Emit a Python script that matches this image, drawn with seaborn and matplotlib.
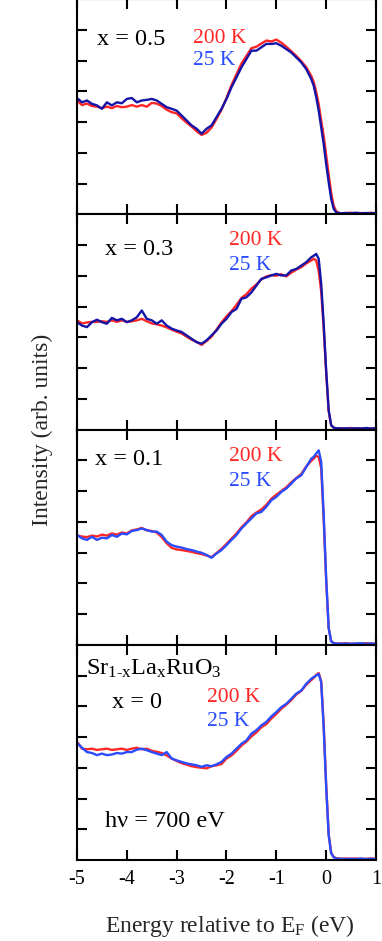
import matplotlib
matplotlib.use("Agg")
import matplotlib.pyplot as plt
import seaborn as sns

# ---------------- data ----------------
energy = [-5.0, -4.9, -4.8, -4.7, -4.6, -4.5, -4.4, -4.3, -4.2, -4.1,
          -4.0, -3.9, -3.8, -3.7, -3.6, -3.5, -3.4, -3.3, -3.2, -3.1,
          -3.0, -2.9, -2.8, -2.7, -2.6, -2.5, -2.4, -2.3, -2.2, -2.1,
          -2.0, -1.9, -1.8, -1.7, -1.6, -1.5, -1.4, -1.3, -1.2, -1.1,
          -1.0, -0.9, -0.8, -0.7, -0.6, -0.5, -0.4, -0.3, -0.25, -0.2,
          -0.15, -0.1, -0.05, 0.0, 0.05, 0.1, 0.15, 0.2, 0.25, 0.3,
          0.4, 0.5, 0.6, 0.7, 0.8, 0.9, 1.0]

# x = 0.5
x05_25K = [3.78, 3.64, 3.70, 3.59, 3.54, 3.43, 3.64, 3.54, 3.64, 3.61,
           3.75, 3.78, 3.64, 3.70, 3.72, 3.75, 3.70, 3.59, 3.48, 3.43,
           3.37, 3.21, 3.05, 2.89, 2.78, 2.62, 2.78, 2.89, 3.16, 3.43,
           3.75, 4.13, 4.45, 4.78, 5.05, 5.32, 5.32, 5.43, 5.54, 5.54,
           5.56, 5.48, 5.37, 5.26, 5.10, 4.94, 4.72, 4.40, 4.18, 3.81,
           3.37, 2.83, 2.29, 1.64, 1.05, 0.51, 0.18, 0.06, 0.04, 0.03,
           0.04, 0.03, 0.05, 0.03, 0.04, 0.03, 0.04]
x05_200K = [3.70, 3.55, 3.60, 3.52, 3.50, 3.45, 3.50, 3.45, 3.52, 3.48,
            3.50, 3.55, 3.50, 3.55, 3.50, 3.62, 3.60, 3.52, 3.40, 3.32,
            3.28, 3.12, 2.98, 2.85, 2.70, 2.58, 2.65, 2.82, 3.10, 3.40,
            3.78, 4.20, 4.55, 4.90, 5.15, 5.40, 5.45, 5.55, 5.65, 5.62,
            5.68, 5.58, 5.45, 5.30, 5.15, 4.98, 4.78, 4.50, 4.30, 3.98,
            3.58, 3.05, 2.55, 1.92, 1.30, 0.70, 0.28, 0.10, 0.05, 0.03,
            0.04, 0.05, 0.03, 0.04, 0.03, 0.05, 0.03]

# x = 0.3
x03_25K = [3.49, 3.38, 3.33, 3.49, 3.57, 3.49, 3.44, 3.63, 3.55, 3.60,
           3.49, 3.55, 3.65, 3.87, 3.60, 3.55, 3.44, 3.55, 3.38, 3.28,
           3.22, 3.17, 3.06, 2.95, 2.84, 2.79, 2.90, 3.06, 3.22, 3.44,
           3.60, 3.82, 3.92, 4.25, 4.30, 4.46, 4.68, 4.90, 4.95, 5.01,
           5.06, 5.01, 5.01, 5.17, 5.22, 5.33, 5.44, 5.60, 5.65, 5.71,
           5.55, 4.74, 3.44, 1.92, 0.63, 0.14, 0.06, 0.04, 0.04, 0.03,
           0.04, 0.03, 0.04, 0.03, 0.05, 0.03, 0.04]
x03_200K = [3.55, 3.45, 3.48, 3.50, 3.50, 3.52, 3.50, 3.55, 3.50, 3.55,
            3.50, 3.52, 3.55, 3.60, 3.52, 3.45, 3.42, 3.38, 3.32, 3.25,
            3.18, 3.12, 3.02, 2.92, 2.85, 2.75, 2.88, 3.02, 3.25, 3.48,
            3.68, 3.85, 4.05, 4.28, 4.40, 4.58, 4.72, 4.88, 4.98, 5.02,
            5.00, 5.05, 4.98, 5.10, 5.20, 5.28, 5.40, 5.50, 5.55, 5.50,
            5.15, 4.50, 3.30, 1.85, 0.60, 0.14, 0.06, 0.04, 0.04, 0.04,
            0.03, 0.05, 0.03, 0.04, 0.04, 0.03, 0.05]

# x = 0.1
x01_25K = [3.57, 3.46, 3.41, 3.51, 3.41, 3.48, 3.46, 3.57, 3.51, 3.62,
           3.59, 3.70, 3.73, 3.78, 3.73, 3.68, 3.68, 3.57, 3.35, 3.24,
           3.19, 3.16, 3.11, 3.08, 3.03, 2.99, 2.92, 2.83, 2.97, 3.08,
           3.24, 3.41, 3.57, 3.78, 3.95, 4.11, 4.27, 4.32, 4.49, 4.70,
           4.81, 4.97, 5.08, 5.24, 5.41, 5.51, 5.78, 6.05, 6.11, 6.22,
           6.32, 5.95, 4.22, 2.16, 0.54, 0.11, 0.05, 0.04, 0.04, 0.03,
           0.04, 0.03, 0.04, 0.05, 0.03, 0.04, 0.03]
x01_200K = [3.55, 3.52, 3.50, 3.55, 3.52, 3.58, 3.55, 3.62, 3.58, 3.65,
            3.62, 3.72, 3.75, 3.80, 3.72, 3.70, 3.65, 3.50, 3.30, 3.15,
            3.10, 3.08, 3.05, 3.02, 2.98, 2.95, 2.90, 2.85, 2.98, 3.12,
            3.28, 3.45, 3.62, 3.82, 3.98, 4.18, 4.30, 4.40, 4.55, 4.75,
            4.88, 5.00, 5.12, 5.28, 5.42, 5.55, 5.80, 5.98, 6.05, 6.15,
            6.10, 5.75, 4.10, 2.10, 0.55, 0.12, 0.06, 0.04, 0.04, 0.04,
            0.05, 0.03, 0.04, 0.03, 0.05, 0.04, 0.03]

# x = 0
x00_25K = [3.81, 3.65, 3.51, 3.48, 3.41, 3.46, 3.41, 3.43, 3.48, 3.46,
           3.51, 3.51, 3.59, 3.62, 3.57, 3.51, 3.46, 3.41, 3.51, 3.30,
           3.24, 3.19, 3.14, 3.11, 3.08, 3.03, 3.08, 3.05, 3.11, 3.19,
           3.35, 3.46, 3.62, 3.78, 3.89, 4.11, 4.22, 4.38, 4.49, 4.67,
           4.81, 4.97, 5.08, 5.24, 5.41, 5.51, 5.73, 5.89, 5.95, 6.00,
           6.05, 5.78, 4.32, 2.38, 0.81, 0.22, 0.09, 0.05, 0.04, 0.04,
           0.03, 0.04, 0.03, 0.05, 0.03, 0.04, 0.03]
x00_200K = [3.85, 3.62, 3.60, 3.62, 3.58, 3.60, 3.62, 3.58, 3.60, 3.62,
            3.58, 3.62, 3.65, 3.60, 3.62, 3.55, 3.52, 3.48, 3.40, 3.30,
            3.22, 3.15, 3.10, 3.05, 3.02, 3.00, 2.98, 3.05, 3.08, 3.12,
            3.30, 3.40, 3.55, 3.72, 3.85, 4.02, 4.15, 4.32, 4.42, 4.60,
            4.75, 4.92, 5.05, 5.20, 5.38, 5.50, 5.70, 5.85, 5.92, 6.02,
            6.08, 5.82, 4.40, 2.45, 0.85, 0.24, 0.10, 0.06, 0.05, 0.04,
            0.05, 0.04, 0.05, 0.03, 0.04, 0.05, 0.04]

x_ticks = [-5, -4, -3, -2, -1, 0, 1]
x_tick_labels = ["-5", "-4", "-3", "-2", "-1", "0", "1"]
y_ticks = [1, 2, 3, 4, 5, 6]

panels = [
    ("x = 0.5", x05_200K, x05_25K),
    ("x = 0.3", x03_200K, x03_25K),
    ("x = 0.1", x01_200K, x01_25K),
    ("x = 0", x00_200K, x00_25K),
]

# ---------------- styling ----------------
sns.set_theme(style="ticks")
plt.rcParams["font.family"] = ["Liberation Serif", "DejaVu Serif"]
plt.rcParams["mathtext.fontset"] = "custom"
plt.rcParams["mathtext.rm"] = "Liberation Serif"
plt.rcParams["mathtext.it"] = "Liberation Serif:italic"

W, H = 382, 941
fig = plt.figure(figsize=(W / 100, H / 100), dpi=100)

RED = "#ff2626"
BLUE_DARK = "#1414a8"
BLUE_BRIGHT = "#2a4cff"
TEXT_BLUE = "#2a4cff"

left_px, right_px = 77, 376
top_px, bottom_px = -1, 860
ph = (bottom_px - top_px) / 4.0

axes = []
for i, (lab, red_vals, blue_vals) in enumerate(panels):
    t = top_px + i * ph
    ax = fig.add_axes([left_px / W, 1 - (t + ph) / H, (right_px - left_px) / W, ph / H])
    blue_col = BLUE_DARK if i < 2 else BLUE_BRIGHT
    sns.lineplot(x=energy, y=red_vals, ax=ax, color=RED, linewidth=1.7,
                 estimator=None, sort=False)
    sns.lineplot(x=energy, y=blue_vals, ax=ax, color=blue_col, linewidth=1.7,
                 estimator=None, sort=False)
    ax.set_xlim(-5, 1)
    ax.set_ylim(0, 7)
    ax.set_xticks(x_ticks)
    ax.set_yticks(y_ticks)
    ax.set_yticklabels([])
    ax.tick_params(axis="both", which="both", direction="in", length=7.5, width=1.5,
                   top=True, right=True, colors="black", pad=7)
    for s in ax.spines.values():
        s.set_linewidth(1.5)
        s.set_color("black")
    ax.set_xlabel("")
    ax.set_ylabel("")
    if i < 3:
        ax.set_xticklabels([])
    else:
        ax.set_xticklabels(x_tick_labels, fontsize=14.5)
    axes.append(ax)


def ftext(xp, yp, s, **kw):
    fig.text(xp / W, 1 - yp / H, s, ha="left", va="baseline", **kw)


# panel annotations
ftext(97, 45, "x = 0.5", fontsize=17.5, color="black")
ftext(193, 43, "200 K", fontsize=15.5, color=RED)
ftext(193, 65, "25 K", fontsize=15.5, color=TEXT_BLUE)

ftext(105, 255, "x = 0.3", fontsize=17.5, color="black")
ftext(229, 245, "200 K", fontsize=15.5, color=RED)
ftext(229, 270, "25 K", fontsize=15.5, color=TEXT_BLUE)

ftext(95, 465, "x = 0.1", fontsize=17.5, color="black")
ftext(229, 461, "200 K", fontsize=15.5, color=RED)
ftext(229, 486, "25 K", fontsize=15.5, color=TEXT_BLUE)

ftext(86, 675, r"Sr$_\mathrm{1\text{-}x}$La$_\mathrm{x}$RuO$_\mathrm{3}$", fontsize=17.5, color="black")
ftext(112, 708, "x = 0", fontsize=17.5, color="black")
ftext(207, 702, "200 K", fontsize=15.5, color=RED)
ftext(207, 726, "25 K", fontsize=15.5, color=TEXT_BLUE)
ftext(105, 827, "h\u03bd = 700 eV", fontsize=17.5, color="black")

# axis labels
fig.text(42 / W, 1 - 430 / H, "Intensity (arb. units)", rotation=90,
         ha="center", va="center", fontsize=17)
fig.text(229.5 / W, 1 - 932 / H, r"Energy relative to E$_\mathrm{F}$ (eV)",
         ha="center", va="baseline", fontsize=17)

fig.savefig("out.png", dpi=100)
